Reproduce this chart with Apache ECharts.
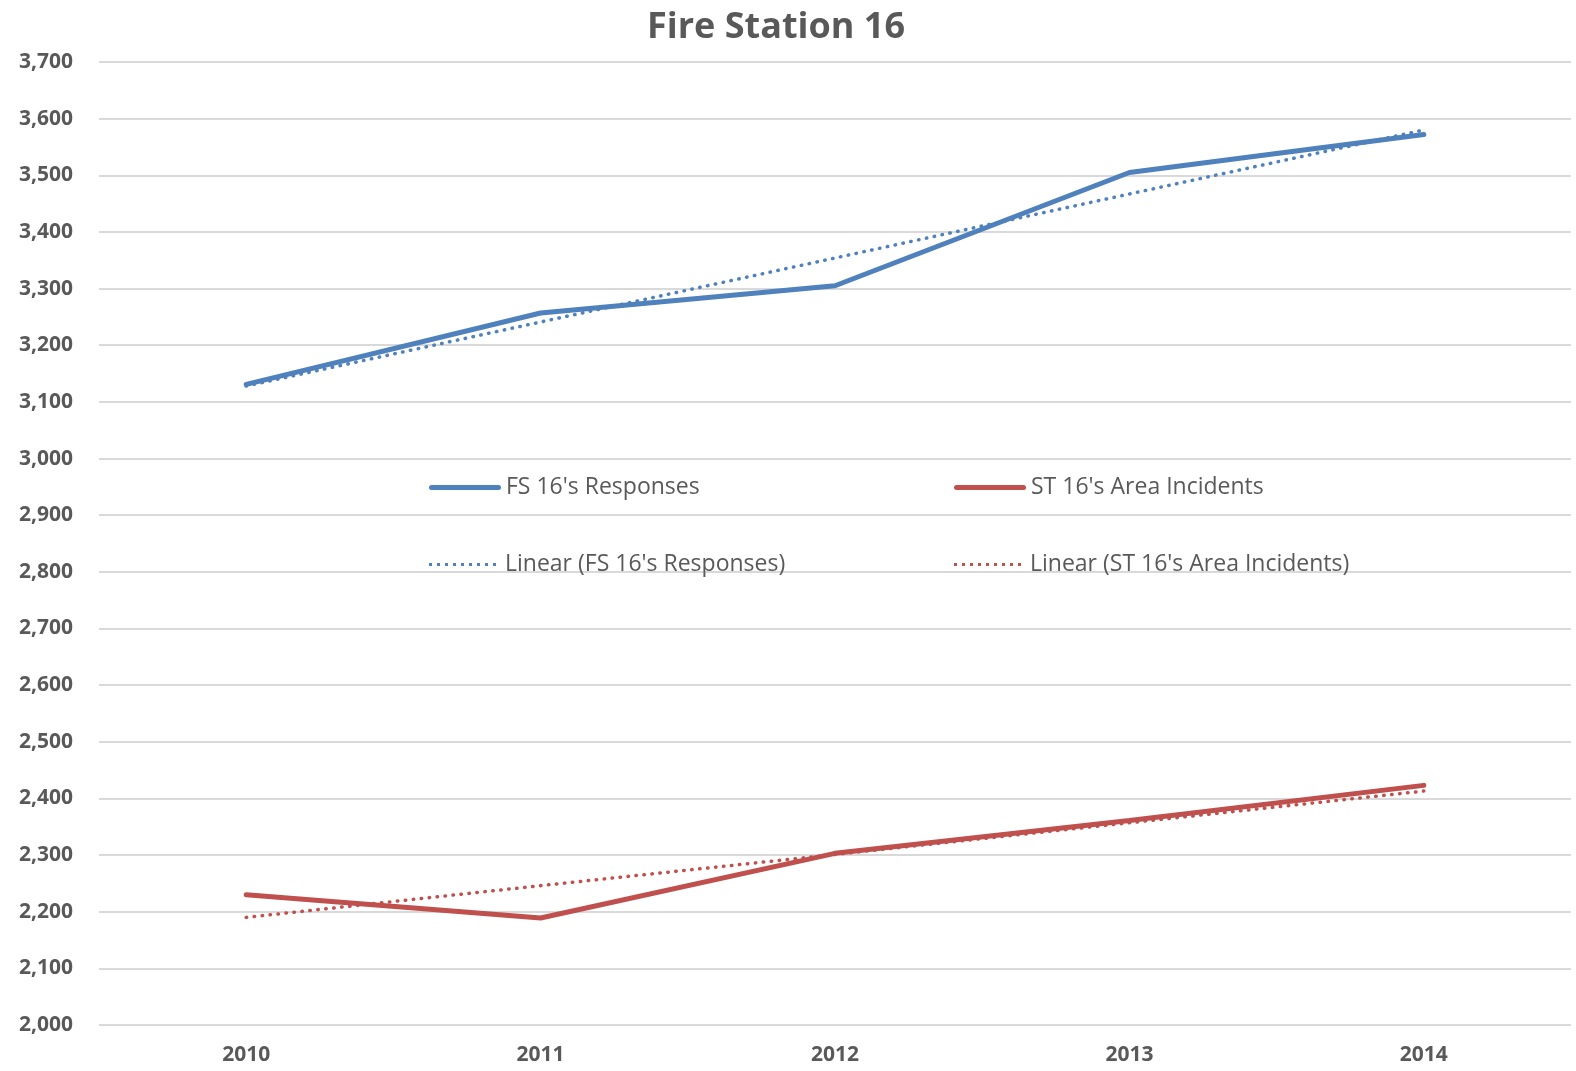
<!DOCTYPE html>
<html>
<head>
<meta charset="utf-8">
<script src="https://cdn.jsdelivr.net/npm/echarts@6/dist/echarts.min.js"></script>
<style>
  html, body { margin: 0; padding: 0; background: #fff; }
  #container { width: 1576px; height: 1071px; }
</style>
</head>
<body>
<div id="container"></div>
<script>
var years = ['2010', '2011', '2012', '2013', '2014'];
var fsResponses = [3131, 3257, 3305, 3505, 3572];
var stIncidents = [2230, 2189, 2303, 2361, 2423];
// trend lines
var fsTrend = [3128, 3241, 3354, 3467, 3580];
var stTrend = [2190, 2246, 2301, 2357, 2413];

var names = ["FS 16's Responses", "ST 16's Area Incidents",
             "Linear (FS 16's Responses)", "Linear (ST 16's Area Incidents)"];

var font = 'Open Sans';
var textColor = '#595959';

// legend icons: a thick rounded bar, and a row of dots
var solidIcon = 'path://M2.5,0 H69.5 A2.5,2.5 0 0 1 69.5,5 H2.5 A2.5,2.5 0 0 1 2.5,0 Z';
var dotIcon = 'path://';
for (var i = 0; i < 9; i++) {
    var x = i * 8;
    dotIcon += 'M' + x + ',0 h3 v3 h-3 Z ';
}

function legendAt(name, left, top, icon, h, w, pad) {
    return {
        data: [{ name: name, icon: icon }],
        left: left,
        top: top,
        itemWidth: w,
        itemHeight: h,
        itemGap: 6,
        textStyle: { fontFamily: font, fontSize: 23, color: textColor, padding: [0, 0, 0, pad] }
    };
}

var chart = echarts.init(document.getElementById('container'));
chart.setOption({
    animation: false,
    title: {
        text: 'Fire Station 16',
        left: 642,
        top: 5,
        textStyle: { fontFamily: font, fontSize: 36, fontWeight: 'bold', color: textColor }
    },
    legend: [
        legendAt(names[0], 424, 471, solidIcon, 5, 72, 0),
        legendAt(names[1], 949, 471, solidIcon, 5, 72, 0),
        legendAt(names[2], 424, 548, dotIcon, 3, 67, 4),
        legendAt(names[3], 949, 548, dotIcon, 3, 67, 4)
    ],
    grid: { left: 99, right: 5, top: 62, bottom: 46 },
    xAxis: {
        type: 'category',
        data: years,
        boundaryGap: true,
        axisLine: { show: false },
        axisTick: { show: false },
        axisLabel: { fontFamily: font, fontSize: 21, fontWeight: 'bold', color: textColor, margin: 20 }
    },
    yAxis: {
        type: 'value',
        min: 2000,
        max: 3700,
        interval: 100,
        axisLine: { show: false },
        axisTick: { show: false },
        axisLabel: {
            fontFamily: font, fontSize: 21, fontWeight: 'bold', color: textColor, margin: 26,
            formatter: function (v) { return v.toLocaleString('en-US'); }
        },
        splitLine: { lineStyle: { color: '#d9d9d9', width: 2 } }
    },
    series: [
        {
            name: names[0], type: 'line', data: fsResponses, symbol: 'none',
            lineStyle: { color: '#4f81bd', width: 5, cap: 'round' }, itemStyle: { color: '#4f81bd' }
        },
        {
            name: names[1], type: 'line', data: stIncidents, symbol: 'none',
            lineStyle: { color: '#c0504d', width: 5, cap: 'round' }, itemStyle: { color: '#c0504d' }
        },
        {
            name: names[2], type: 'line', data: fsTrend, symbol: 'none',
            lineStyle: { color: '#4f81bd', width: 3.5, type: [0.5, 7.5], cap: 'round' }, itemStyle: { color: '#4f81bd' }
        },
        {
            name: names[3], type: 'line', data: stTrend, symbol: 'none',
            lineStyle: { color: '#c0504d', width: 3.5, type: [0.5, 7.5], cap: 'round' }, itemStyle: { color: '#c0504d' }
        }
    ]
});
</script>
</body>
</html>
